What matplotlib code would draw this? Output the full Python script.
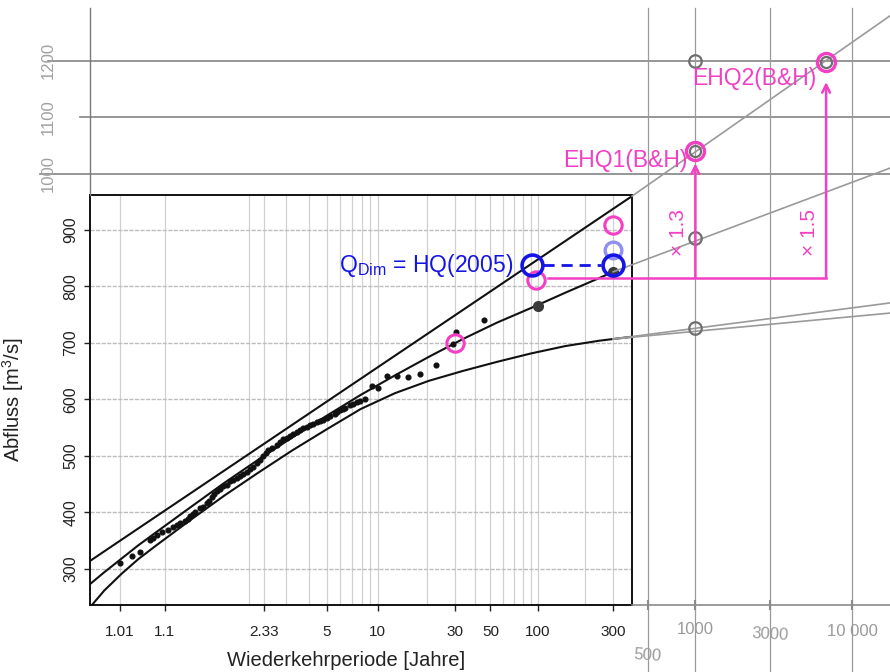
import numpy as np
import matplotlib.pyplot as plt

plt.rcParams['font.family'] = ['Liberation Sans', 'DejaVu Sans']
plt.rcParams['mathtext.fontset'] = 'custom'
plt.rcParams['mathtext.rm'] = 'Liberation Sans'
plt.rcParams['mathtext.default'] = 'regular'

# ------------ data ------------
# observed annual maxima: return period [a], discharge [m3/s]
obs_T = [1.010, 1.021, 1.033, 1.054, 1.0618, 1.072, 1.0902, 1.115, 1.138, 1.1565,
         1.173, 1.203, 1.223, 1.237, 1.2588, 1.274, 1.316, 1.3424, 1.378, 1.4009,
         1.430, 1.4549, 1.486, 1.5263, 1.569, 1.6195, 1.663, 1.709, 1.769, 1.8247,
         1.884, 1.9547, 2.015, 2.0778, 2.160, 2.2375, 2.319, 2.3887, 2.451, 2.5547,
         2.695, 2.8002, 2.911, 3.0414, 3.153, 3.2694, 3.421, 3.5623, 3.712, 3.8882,
         4.038, 4.1946, 4.399, 4.5903, 4.771, 5.0269, 5.230, 5.587, 5.7379, 5.971,
         6.2158, 6.386, 6.830, 7.1134, 7.481, 7.8267, 8.384, 9.198, 10.08,
         11.33, 13.04, 15.29, 18.14, 22.80, 29.12, 30.41, 45.58]
obs_Q = [311, 322, 330, 351, 355, 360, 365, 369, 374, 378,
         381, 384, 389, 393, 397, 401, 407, 410, 416, 420,
         428, 432, 437, 442, 446, 449, 455, 457, 461, 464,
         468, 472, 477, 481, 487, 492, 500, 505, 510, 514,
         520, 525, 530, 532, 536, 538, 542, 545, 549, 551,
         555, 556, 560, 562, 564, 567, 570, 575, 578, 581,
         583, 585, 590, 592, 596, 598, 600, 623, 620,
         641, 642, 640, 645, 661, 698, 720, 741]

# fitted distribution and confidence band
curve_T = [1.000775, 1.003, 1.011, 1.03, 1.07, 1.24, 1.58, 2.2, 3.25, 5.0,
           7.9, 12.7, 20.6, 33.6, 55, 90.5, 149, 245]
fit_Q = [273, 294, 318, 341.5, 364.5, 409, 452, 493.5, 533, 571,
         608, 642.5, 675.5, 707, 736, 762, 789, 815]
lower_Q = [232, 261.6, 291, 317, 341, 386.5, 429.5, 470.5, 510, 547,
           583, 611, 633, 650.5, 666.5, 681.5, 694.5, 704]
fit_end_T, fit_end_Q = 300, 826
lower_end_T, lower_end_Q = [300, 395.3], [707, 711]
upper_T = [1.000775, 395.3]
upper_Q = [314, 960]

# quantiles of the fit (large grey dots)
hq_T = [100, 300]
hq_Q = [765, 826]

# hand drawn extension beyond the plot frame
ext_mid_T, ext_mid_Q = [300, 17500], [826, 1010]
ext_up_T, ext_up_Q = [395.3, 17500], [960, 1280]
ext_lowa_T, ext_lowa_Q = [300, 17500], [707, 771]
ext_lowb_T, ext_lowb_Q = [300, 17500], [707, 753]
hand_circ_T = [1000, 1000, 1000]
hand_circ_Q = [886, 726, 1200]
hand_grid_Q = [1000, 1100, 1200]
hand_grid_T = [500, 1000, 3000, 10000]
hand_grid_lbl = ['500', '1000', '3000', '10 000']

# annotations
pink_T = [30, 97, 300]
pink_Q = [700, 812, 909]
ehq_T = [1000, 6800]
ehq_Q = [1040, 1197]
ehq_lbl = ['EHQ1(B&H)', 'EHQ2(B&H)']
ehq_arrow_top = [1018, 1162]
ehq_factor = ['× 1.3', '× 1.5']
base_Q = 815
base_T = [116, 6800]
blue_T = [91, 300]
blue_Q = [838, 838]
lightblue_T, lightblue_Q = 300, 865

x_ticks = [1.01, 1.1, 2.33, 5, 10, 30, 50, 100, 300]
x_ticklabels = ['1.01', '1.1', '2.33', '5', '10', '30', '50', '100', '300']
x_grid = [2, 3, 4, 6, 7, 8, 9, 20, 40, 60, 70, 80, 90, 200]
y_ticks = [300, 400, 500, 600, 700, 800, 900]

PINK = '#f23fc3'
BLUE = '#1414e6'
# ----------------------------------------------------


def gum(T):
    T = np.asarray(T, dtype=float)
    with np.errstate(all='ignore'):
        return -np.log(-np.log1p(-1.0 / T))


def gum_inv(g):
    g = np.asarray(g, dtype=float)
    with np.errstate(all='ignore'):
        return 1.0 / (-np.expm1(-np.exp(-g)))


W, H = 890, 672
fig = plt.figure(figsize=(W / 100, H / 100), dpi=100)
fig.patch.set_facecolor('white')

# main frame (pixel box 90..632 x 195..605)
box = [90 / W, 1 - 605 / H, 542 / W, 410 / H]
xlim = (1.000775, 395.3)
ylim = (236, 962)

ax = fig.add_axes(box)
ax.set_xscale('function', functions=(gum, gum_inv))
ax.set_xlim(*xlim)
ax.set_ylim(*ylim)

ax.set_xticks(x_ticks, labels=x_ticklabels)
ax.set_xticks(x_grid, minor=True)
ax.set_yticks(y_ticks)
ax.grid(True, axis='x', which='both', color='#d0d0d0', lw=0.9)
ax.grid(True, axis='y', which='major', color='#bdbdbd', lw=1.0, ls=(0, (3, 1)))
ax.tick_params(axis='x', which='minor', length=0)
ax.tick_params(axis='x', which='major', direction='out', length=4.5, width=1,
               labelsize=11, pad=10, colors='#222222')
ax.tick_params(axis='y', direction='out', length=4.5, width=1, labelsize=11.5,
               pad=4, labelrotation=90, colors='#222222')
for lab in ax.get_yticklabels():
    lab.set_va('center')
for sp in ax.spines.values():
    sp.set_linewidth(1.4)
    sp.set_color('#111111')

ax.set_xlabel('Wiederkehrperiode [Jahre]', fontsize=14.5, color='#222222')
ax.xaxis.set_label_coords(0.472, -0.112)
ax.set_ylabel('Abfluss [m$^3$/s]', fontsize=14.5, color='#222222')
ax.yaxis.set_label_coords(-0.118, 0.5)

ax.plot(upper_T, upper_Q, color='#111111', lw=1.5)
ax.plot(curve_T + lower_end_T, lower_Q + lower_end_Q, color='#111111', lw=1.5)
ax.plot(curve_T + [fit_end_T], fit_Q + [fit_end_Q], color='#111111', lw=1.5)
ax.plot(obs_T, obs_Q, 'o', color='#111111', ms=3.4, zorder=3)
ax.plot(hq_T, hq_Q, 'o', color='#3a3a3a', ms=7, zorder=3)

# overlay over the whole figure with the same scales (hand drawn part)
g0, g1 = gum(xlim[0]), gum(xlim[1])
gpf = (g1 - g0) / box[2]
gL = g0 - box[0] * gpf
qpf = (ylim[1] - ylim[0]) / box[3]
qB = ylim[0] - box[1] * qpf

ov = fig.add_axes([0, 0, 1, 1])
ov.set_xscale('function', functions=(gum, gum_inv))
ov.set_xlim(gum_inv(gL), gum_inv(gL + gpf))
ov.set_ylim(qB, qB + qpf)
ov.axis('off')
ov.patch.set_alpha(0)
ov.set_zorder(2)

top = 1 - 8 / H
for q, x0 in zip(hand_grid_Q, [40 / W, 80 / W, 48 / W]):
    ov.axhline(q, xmin=x0, xmax=1, color='#8e8e8e', lw=1.3)
    ov.text(48 / W, q, f'{q}', transform=ov.get_yaxis_transform(), rotation=90,
            ha='center', va='center', fontsize=12, color='#a0a0a0')
for t in hand_grid_T:
    ov.axvline(t, ymin=0, ymax=top, color='#9a9a9a', lw=0.9)
ov.axvline(xlim[0], ymin=box[1] + box[3], ymax=top, color='#7a7a7a', lw=1.0)
ov.plot([xlim[1], ov.get_xlim()[1]], [ylim[0], ylim[0]], color='#8a8a8a', lw=1.2)
ov.plot(hand_grid_T, [ylim[0]] * len(hand_grid_T), '|', color='#8a8a8a', ms=7, mew=1.5)
for t, lbl, yf, rot in zip(hand_grid_T, hand_grid_lbl,
                           [1 - 655 / H, 1 - 630 / H, 1 - 634 / H, 1 - 632 / H],
                           [-4, 0, -3, 0]):
    ov.text(t, yf, lbl, transform=ov.get_xaxis_transform(), ha='center',
            va='center', fontsize=12, color='#9a9a9a', rotation=rot)

ov.plot(ext_mid_T, ext_mid_Q, color='#9a9a9a', lw=1.2)
ov.plot(ext_up_T, ext_up_Q, color='#9a9a9a', lw=1.2)
ov.plot(ext_lowa_T, ext_lowa_Q, color='#9a9a9a', lw=1.2)
ov.plot(ext_lowb_T, ext_lowb_Q, color='#9a9a9a', lw=1.2)
ov.plot(hand_circ_T, hand_circ_Q, 'o', mfc='none', mec='#6f6f6f', ms=9, mew=1.6)
ov.plot(ehq_T, ehq_Q, 'o', mfc='none', mec='#6f6f6f', ms=8, mew=1.6)

# pink construction
ov.plot(pink_T, pink_Q, 'o', mfc='none', mec=PINK, ms=12.5, mew=2.2)
ov.plot(ehq_T, ehq_Q, 'o', mfc='none', mec=PINK, ms=13, mew=2.4)
ov.plot(base_T, [base_Q, base_Q], color=PINK, lw=1.8)
for t, qtop, fac in zip(ehq_T, ehq_arrow_top, ehq_factor):
    ov.annotate('', xy=(t, qtop), xytext=(t, base_Q),
                arrowprops=dict(arrowstyle='->', color=PINK, lw=1.8,
                                mutation_scale=14, shrinkA=0, shrinkB=0))
    ov.annotate(fac, xy=(t, 896), xytext=(-12, 0), textcoords='offset points',
                rotation=90, ha='center', va='center', fontsize=15, color=PINK)
ov.annotate(ehq_lbl[0], xy=(ehq_T[0], ehq_Q[0]), xytext=(-6, -7),
            textcoords='offset points', ha='right', va='center',
            fontsize=16.5, color=PINK)
ov.annotate(ehq_lbl[1], xy=(ehq_T[1], ehq_Q[1]), xytext=(-7, -12),
            textcoords='offset points', ha='right', va='center',
            fontsize=16.5, color=PINK)

# blue: design discharge
ov.plot([lightblue_T], [lightblue_Q], 'o', mfc='none', mec='#8f8ff2', ms=12, mew=2.4)
ov.plot([107, 250], blue_Q, color=BLUE, lw=2, ls=(0, (4, 2.5)))
ov.plot(blue_T, blue_Q, 'o', mfc='none', mec=BLUE, ms=15, mew=2.6)
ov.annotate('Q$_{Dim}$ = HQ(2005)', xy=(blue_T[0], blue_Q[0]), xytext=(-13, 0),
            textcoords='offset points', ha='right', va='center',
            fontsize=16.5, color=BLUE)

fig.savefig('out.png', dpi=100, facecolor='white')
